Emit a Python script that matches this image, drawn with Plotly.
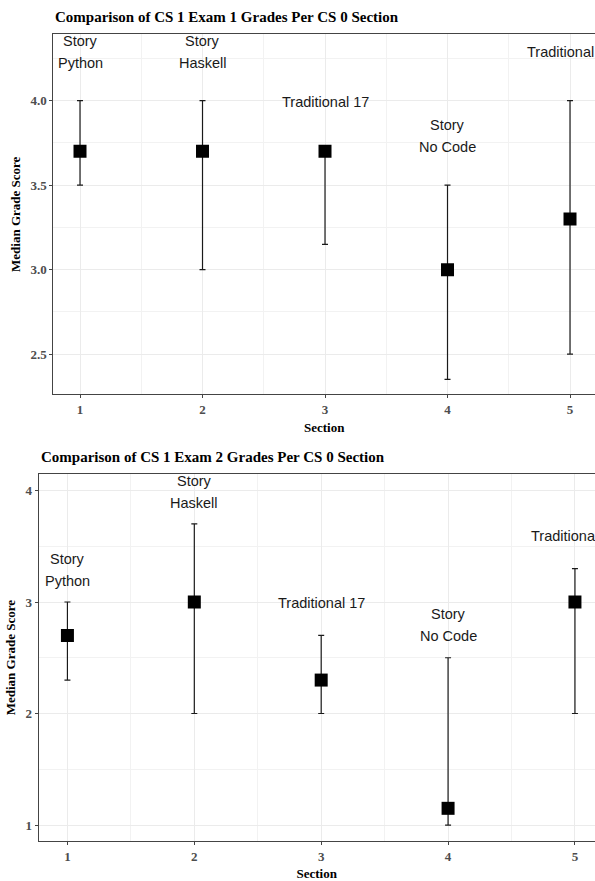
import plotly.graph_objects as go

sections = [1, 2, 3, 4, 5]
labels = ["Story\nPython", "Story\nHaskell", "Traditional 17", "Story\nNo Code", "Traditional 18"]

exam1_median = [3.7, 3.7, 3.7, 3.0, 3.3]
exam1_lower = [3.5, 3.0, 3.15, 2.35, 2.5]
exam1_upper = [4.0, 4.0, 3.7, 3.5, 4.0]

exam2_median = [2.7, 3.0, 2.3, 1.15, 3.0]
exam2_lower = [2.3, 2.0, 2.0, 1.0, 2.0]
exam2_upper = [3.0, 3.7, 2.7, 2.5, 3.3]

titles = ["Comparison of CS 1 Exam 1 Grades Per CS 0 Section",
          "Comparison of CS 1 Exam 2 Grades Per CS 0 Section"]

W, H = 595, 881
SERIF = "Liberation Serif, Times New Roman, serif"
SANS = "Liberation Sans, Arial, sans-serif"
LABEL_OFFSET = 0.29
LINE_H = 22


def px(x):
    return x / W


def py(y):
    return 1 - y / H


fig = go.Figure()

panels = [
    dict(med=exam1_median, lo=exam1_lower, hi=exam1_upper, xa="x", ya="y",
         xdom=[px(53.3), 1], ydom=[py(394.3), py(34.3)],
         xrange=[0.782, 5.204], yrange=[2.262, 4.393], dtick=0.5, tick0=2.5,
         fmt=".1f", title_y=py(17)),
    dict(med=exam2_median, lo=exam2_lower, hi=exam2_upper, xa="x2", ya="y2",
         xdom=[px(38.5), 1], ydom=[py(841), py(474.3)],
         xrange=[0.772, 5.158], yrange=[0.857, 4.145], dtick=1, tick0=1,
         fmt="d", title_y=py(457)),
]

annotations = []
for k, p in enumerate(panels):
    plus = [h - m for h, m in zip(p["hi"], p["med"])]
    minus = [m - l for m, l in zip(p["med"], p["lo"])]
    fig.add_trace(go.Scatter(
        x=sections, y=p["med"], mode="markers", xaxis=p["xa"], yaxis=p["ya"],
        marker=dict(symbol="square", size=13, color="black", line=dict(width=0)),
        error_y=dict(type="data", symmetric=False, array=plus, arrayminus=minus,
                     color="#1a1a1a", thickness=1.2, width=3),
        showlegend=False, hoverinfo="skip"))
    for s, lab, h in zip(sections, labels, p["hi"]):
        lines = lab.split("\n")
        n = len(lines)
        for i, ln in enumerate(lines):
            annotations.append(dict(
                x=s, y=h + LABEL_OFFSET, xref=p["xa"], yref=p["ya"], text=ln,
                showarrow=False, xanchor="center", yanchor="middle",
                yshift=((n - 1) / 2 - i) * LINE_H,
                font=dict(family=SANS, size=14.5, color="#1a1a1a")))
    annotations.append(dict(
        x=p["xdom"][0], y=p["title_y"], xref="paper", yref="paper", text="<b>" + titles[k] + "</b>",
        showarrow=False, xanchor="left", yanchor="middle",
        font=dict(family=SERIF, size=15, color="black")))

    xkey = "xaxis" if k == 0 else "xaxis2"
    ykey = "yaxis" if k == 0 else "yaxis2"
    fig.update_layout(**{
        xkey: dict(domain=p["xdom"], range=p["xrange"], anchor=p["ya"],
                   tickmode="linear", tick0=1, dtick=1,
                   showgrid=True, gridcolor="#ebebeb", gridwidth=1,
                   minor=dict(tick0=0.5, dtick=1, showgrid=True, gridcolor="#f2f2f2", gridwidth=1, ticks=""),
                   showline=True, linecolor="#444", linewidth=1, mirror=True,
                   ticks="outside", ticklen=3, tickcolor="#444",
                   tickfont=dict(family=SERIF, size=13, color="#4d4d4d", weight="bold"),
                   title=dict(text="<b>Section</b>", font=dict(family=SERIF, size=13, color="black"), standoff=6),
                   zeroline=False, fixedrange=True),
        ykey: dict(domain=p["ydom"], range=p["yrange"], anchor=p["xa"],
                   tickmode="linear", tick0=p["tick0"], dtick=p["dtick"], tickformat=p["fmt"],
                   showgrid=True, gridcolor="#ebebeb", gridwidth=1,
                   minor=dict(tick0=p["tick0"] - p["dtick"] / 2, dtick=p["dtick"], showgrid=True,
                              gridcolor="#f2f2f2", gridwidth=1, ticks=""),
                   showline=True, linecolor="#444", linewidth=1, mirror=False,
                   ticks="outside", ticklen=3, tickcolor="#444",
                   tickfont=dict(family=SERIF, size=13, color="#4d4d4d", weight="bold"),
                   title=dict(text="<b>Median Grade Score</b>", font=dict(family=SERIF, size=13, color="black"), standoff=6),
                   zeroline=False, fixedrange=True),
    })

fig.update_layout(
    width=W, height=H, margin=dict(l=0, r=0, t=0, b=0),
    paper_bgcolor="white", plot_bgcolor="white",
    annotations=annotations, showlegend=False)

fig.write_html(
    "out.html",
    config={"displayModeBar": False, "staticPlot": True},
    post_script="document.body.style.margin='0';document.documentElement.style.overflow='hidden';document.body.style.overflow='hidden';",
)
